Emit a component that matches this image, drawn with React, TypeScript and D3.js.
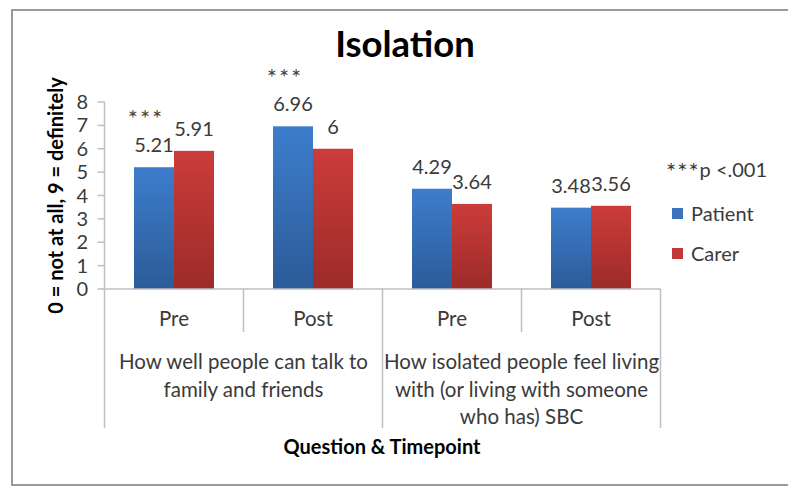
import React from "react";
import * as d3 from "d3";

const categories = ["Pre", "Post", "Pre", "Post"];
const groupLabels = [
  ["How well people can talk to", "family and friends"],
  ["How isolated people feel living", "with (or living with someone", "who has) SBC"],
];
const series = ["Patient", "Carer"];
const patientValues = [5.21, 6.96, 4.29, 3.48];
const carerValues = [5.91, 6, 3.64, 3.56];
const valueLabels = [
  ["5.21", "6.96", "4.29", "3.48"],
  ["5.91", "6", "3.64", "3.56"],
];
const significant = [true, true, false, false];
const yTicks = [0, 1, 2, 3, 4, 5, 6, 7, 8];

const W = 788;
const H = 487;
const FONT = "Lato, 'Noto Sans', sans-serif";
const TXT = "#3a3a3a";

export default function App() {
  const left = 104.5, right = 660.5, top = 102, bottom = 289;
  const x0 = d3.scaleBand<number>().domain(d3.range(categories.length)).range([left, right]).padding(0);
  const x1 = d3.scaleBand<string>().domain(series).range([0, x0.bandwidth()]).paddingInner(0).paddingOuter(0.7375);
  const y = d3.scaleLinear().domain([0, 8]).range([bottom, top]);
  const values = [patientValues, carerValues];
  const fills = ["url(#gBlue)", "url(#gRed)"];
  const legendFills = ["#3a74c0", "#c0383a"];

  const groupEdges = [left, x0(2)!, right];
  const lineH = 27.5;

  return (
    <svg width={W} height={H} style={{ position: "absolute", left: 0, top: 0, background: "#fff" }} fontFamily={FONT}>
      <defs>
        <linearGradient id="gBlue" x1="0" y1="0" x2="0" y2="1">
          <stop offset="0%" stopColor="#3d7dcc" />
          <stop offset="100%" stopColor="#2c5b98" />
        </linearGradient>
        <linearGradient id="gRed" x1="0" y1="0" x2="0" y2="1">
          <stop offset="0%" stopColor="#cc3c3a" />
          <stop offset="100%" stopColor="#9c2b29" />
        </linearGradient>
      </defs>
      <rect x={0} y={0} width={W} height={H} fill="#fff" />
      <rect x={12} y={10} width={800} height={475} fill="#fff" stroke="#9a9a9a" strokeWidth={2} />

      <text x={405} y={57} textAnchor="middle" fontSize={36.5} fontWeight="bold" fill="#000">Isolation</text>

      {/* y axis title */}
      <text transform={`translate(63,${(top + bottom) / 2}) rotate(-90)`} textAnchor="middle" fontSize={20} fontWeight="bold" fill="#000">
        0 = not at all, 9 = definitely
      </text>

      {/* y axis */}
      <line x1={left} x2={left} y1={top} y2={bottom} stroke="#bfbfbf" strokeWidth={1.5} />
      {yTicks.map((t) => (
        <g key={t}>
          <line x1={left - 7} x2={left} y1={y(t)} y2={y(t)} stroke="#bfbfbf" strokeWidth={1.5} />
          <text x={88} y={y(t)} dy="0.35em" textAnchor="end" fontSize={20} fill={TXT}>{t}</text>
        </g>
      ))}

      {/* bars */}
      {categories.map((c, i) => (
        <g key={i}>
          {series.map((s, j) => {
            const v = values[j][i];
            const bx = x0(i)! + x1(s)!;
            return (
              <g key={s}>
                <rect x={bx} y={y(v)} width={x1.bandwidth()} height={y(0) - y(v)} fill={fills[j]} />
                <text x={bx + x1.bandwidth() / 2} y={y(v) - 15} textAnchor="middle" fontSize={20} fill={TXT}>
                  {valueLabels[j][i]}
                </text>
              </g>
            );
          })}
          {significant[i] && (
            <text x={x0(i)! + x1("Patient")! + 12} y={y(patientValues[i]) - 40} textAnchor="middle" fontSize={24} letterSpacing={2} fill="#444">
              ***
            </text>
          )}
        </g>
      ))}

      {/* x axis */}
      <line x1={left} x2={right} y1={bottom} y2={bottom} stroke="#bfbfbf" strokeWidth={1.5} />
      {[1, 3].map((i) => (
        <line key={i} x1={x0(i)!} x2={x0(i)!} y1={bottom} y2={332} stroke="#bfbfbf" strokeWidth={1.5} />
      ))}
      {groupEdges.map((gx, i) => (
        <line key={i} x1={gx} x2={gx} y1={bottom} y2={428} stroke="#bfbfbf" strokeWidth={1.5} />
      ))}
      {categories.map((c, i) => (
        <text key={i} x={x0(i)! + x0.bandwidth() / 2} y={319} dy="0.35em" textAnchor="middle" fontSize={20.5} fill={TXT}>
          {c}
        </text>
      ))}
      {groupLabels.map((lines, g) => (
        <text key={g} textAnchor="middle" fontSize={20.5} fill={TXT}>
          {lines.map((ln, k) => (
            <tspan key={k} x={(groupEdges[g] + groupEdges[g + 1]) / 2} y={362 + k * lineH} dy="0.35em">{ln}</tspan>
          ))}
        </text>
      ))}
      <text x={382} y={447} dy="0.35em" textAnchor="middle" fontSize={20} fontWeight="bold" fill="#000">
        Question &amp; Timepoint
      </text>

      {/* legend */}
      <text x={666} y={168} dy="0.35em" fontSize={20} fill={TXT}>
        <tspan fontSize={24} letterSpacing={1} dy="0.5em">***</tspan>
        <tspan dy="-0.15em">p &lt;.001</tspan>
      </text>
      {series.map((s, j) => (
        <g key={s}>
          <rect x={672} y={208 + j * 40} width={11} height={11} fill={legendFills[j]} />
          <text x={691} y={214 + j * 40} dy="0.35em" fontSize={20} fill={TXT}>{s}</text>
        </g>
      ))}
    </svg>
  );
}
